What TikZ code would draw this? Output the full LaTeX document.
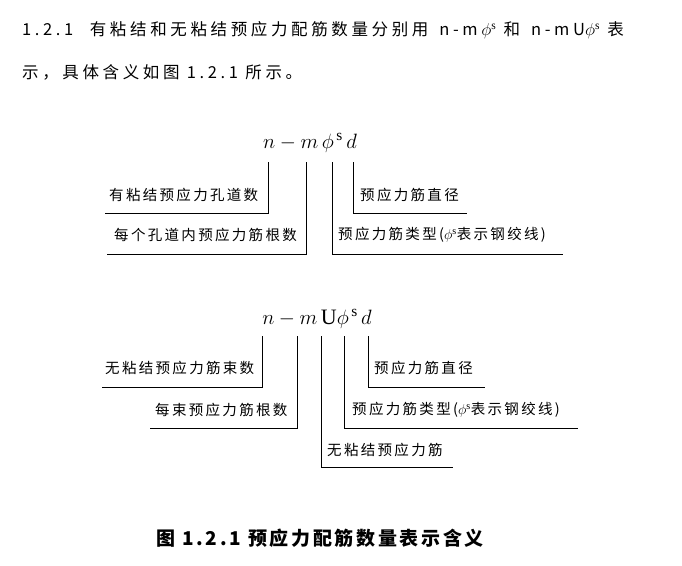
\documentclass[tikz,border=0pt]{standalone}
\usepackage{fontspec}
\setmainfont{Liberation Serif}
\newfontfamily\cjk[LetterSpace=16]{Noto Sans CJK SC}
\newfontfamily\cjkhead[LetterSpace=22]{Noto Sans CJK SC}
\newfontfamily\cjkcap[LetterSpace=14]{Noto Sans CJK SC}
\usetikzlibrary{positioning}
\begin{document}
\begin{tikzpicture}
  [
    x=1pt, y=-1pt,
    Label/.style={anchor=west, inner sep=0pt, font=\cjk\fontsize{14.5}{16}\selectfont},
    Formula/.style={inner sep=0pt, font=\fontsize{22}{25}\selectfont},
    Lead/.style={draw=black, thick}
  ]
  \useasboundingbox (0,0) rectangle (682,565);
  % Header text
  \node[anchor=west, inner sep=0pt, font=\cjkhead\fontsize{16.5}{19}\selectfont] (t1) at (22, 30)
    {1.2.1\quad 有粘结和无粘结预应力配筋数量分别用 \textit{n}-\textit{m}$\phi^{\mathrm{s}}$ 和 \textit{n}-\textit{m}U$\phi^{\mathrm{s}}$ 表};
  \node[anchor=west, inner sep=0pt, font=\cjkhead\fontsize{16.5}{19}\selectfont] (t2) at (22, 72)
    {示，具体含义如图 1.2.1 所示。};

  % Formula 1
  \node[Formula] (f1) at (310, 143) {$n-m\,\phi^{\,\mathrm{s}}\,d$};
  \node[Label] (a1) at (109, 195) {有粘结预应力孔道数};
  \node[Label] (a2) at (114, 235) {每个孔道内预应力筋根数};
  \node[Label] (a3) at (360, 195) {预应力筋直径};
  \node[Label] (a4) at (338, 235) {预应力筋类型(${\phi}^{\mathrm{s}}$表示钢绞线)};
  \draw[Lead] (268, 162) |- (105, 213);
  \draw[Lead] (306, 162) |- (107, 254);
  \draw[Lead] (353, 162) |- (467, 213);
  \draw[Lead] (332, 162) |- (563, 254);

  % Formula 2
  \node[Formula] (f2) at (317, 319) {$n-m\,\mathrm{U}\phi^{\,\mathrm{s}}\,d$};
  \node[Label] (b1) at (105, 368) {无粘结预应力筋束数};
  \node[Label] (b2) at (155, 410) {每束预应力筋根数};
  \node[Label] (b3) at (327, 450) {无粘结预应力筋};
  \node[Label] (b4) at (374, 368) {预应力筋直径};
  \node[Label] (b5) at (352, 410) {预应力筋类型(${\phi}^{\mathrm{s}}$表示钢绞线)};
  \draw[Lead] (262, 336) |- (102, 387);
  \draw[Lead] (297, 336) |- (150, 428);
  \draw[Lead] (321, 336) |- (453, 467);
  \draw[Lead] (344, 336) |- (578, 428);
  \draw[Lead] (368, 336) |- (485, 387);

  % Caption
  \node[inner sep=0pt, font=\cjkcap\bfseries\fontsize{19}{22}\selectfont] (cap) at (320, 538)
    {图 1.2.1 预应力配筋数量表示含义};
\end{tikzpicture}
\end{document}
